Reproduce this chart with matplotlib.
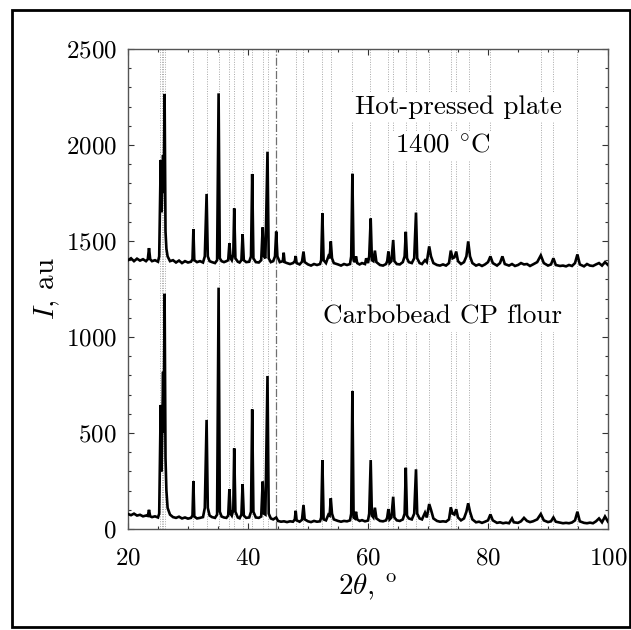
import matplotlib
matplotlib.use("Agg")
import matplotlib.pyplot as plt
from matplotlib.patches import Rectangle
from matplotlib.ticker import MultipleLocator

plt.rcParams['font.family'] = ['cmr10', 'DejaVu Serif']
plt.rcParams['mathtext.fontset'] = 'cm'
plt.rcParams['axes.unicode_minus'] = False
plt.rcParams['axes.formatter.use_mathtext'] = True

# ---- data ----
# Carbobead CP flour pattern (2theta, intensity)
tt_flour = [20.0, 20.5, 21.0, 21.5, 22.0, 22.5, 23.0, 23.3, 23.5, 23.7, 24.0, 24.5, 25.0, 25.2,
            25.45, 25.6, 25.85, 25.95, 26.1, 26.25, 26.4, 26.6, 27.0, 27.5, 28.0, 28.5, 29.0, 29.5,
            30.0, 30.5, 30.75, 30.9, 31.05, 31.5, 32.0, 32.5, 32.8, 33.1, 33.3, 33.6, 34.0, 34.5,
            34.85, 35.1, 35.3, 35.6, 36.0, 36.4, 36.7, 36.9, 37.1, 37.3, 37.55, 37.7, 37.9, 38.3,
            38.6, 38.9, 39.1, 39.3, 39.7, 40.2, 40.5, 40.7, 40.9, 41.3, 41.8, 42.2, 42.45, 42.65,
            42.9, 43.25, 43.45, 43.8, 44.2, 44.7, 45.0, 45.5, 46.0, 46.5, 47.0, 47.5, 47.8, 47.95,
            48.1, 48.6, 49.0, 49.25, 49.45, 50.0, 50.5, 51.0, 51.5, 52.0, 52.2, 52.4, 52.6, 53.0,
            53.4, 53.6, 53.8, 54.0, 54.3, 55.0, 55.5, 56.0, 56.5, 57.0, 57.2, 57.4, 57.6, 57.8,
            58.0, 58.2, 58.6, 59.0, 59.5, 60.0, 60.2, 60.45, 60.65, 60.9, 61.15, 61.4, 62.0, 62.5,
            63.0, 63.2, 63.4, 63.6, 63.9, 64.2, 64.4, 64.8, 65.3, 65.8, 66.1, 66.3, 66.5, 66.8,
            67.3, 67.7, 68.0, 68.2, 68.6, 69.0, 69.5, 69.8, 70.2, 70.5, 70.9, 71.5, 72.0, 72.5,
            73.0, 73.5, 73.8, 74.1, 74.4, 74.7, 75.0, 75.5, 76.0, 76.4, 76.7, 77.0, 77.4, 78.0,
            78.5, 79.0, 79.5, 80.0, 80.4, 80.8, 81.5, 82.0, 82.5, 83.0, 83.5, 84.0, 84.3, 85.0,
            85.5, 86.0, 86.5, 87.0, 87.5, 88.2, 88.8, 89.3, 90.0, 90.5, 90.9, 91.3, 92.0, 92.5,
            93.0, 93.5, 94.0, 94.5, 94.9, 95.3, 96.0, 96.5, 97.0, 97.5, 98.0, 98.5, 99.0, 99.5, 100.0]
I_flour = [78, 72, 80, 70, 74, 66, 70, 68, 100, 66, 62, 66, 60, 80,
           646, 300, 819, 500, 1225, 370, 200, 110, 75, 62, 58, 64, 55, 60,
           54, 58, 70, 250, 65, 55, 58, 62, 110, 568, 110, 70, 62, 58,
           75, 1257, 90, 65, 60, 58, 70, 207, 80, 70, 100, 420, 90, 60,
           56, 75, 233, 70, 58, 60, 90, 623, 90, 60, 58, 65, 247, 80,
           75, 797, 80, 55, 50, 60, 42, 38, 40, 36, 40, 38, 50, 95,
           45, 38, 48, 125, 50, 40, 36, 42, 38, 40, 60, 359, 50, 45,
           75, 70, 160, 80, 50, 42, 38, 42, 40, 45, 80, 719, 60, 55,
           90, 50, 42, 46, 40, 44, 80, 359, 70, 60, 111, 55, 42, 40,
           45, 60, 104, 50, 60, 168, 60, 45, 42, 50, 80, 319, 70, 55,
           50, 80, 311, 80, 55, 50, 85, 60, 130, 100, 55, 42, 38, 40,
           38, 50, 113, 80, 75, 103, 60, 45, 55, 90, 134, 90, 50, 35,
           38, 32, 38, 45, 76, 45, 32, 35, 30, 33, 30, 55, 35, 32,
           40, 58, 42, 36, 40, 50, 78, 45, 36, 40, 60, 38, 33, 30,
           32, 30, 34, 45, 90, 40, 32, 30, 33, 30, 40, 55, 35, 65, 38]

# Hot-pressed plate 1400 C pattern (2theta, intensity)
tt_plate = [20.0, 20.5, 21.0, 21.5, 22.0, 22.5, 23.0, 23.3, 23.5, 23.7, 24.0, 24.5, 25.0, 25.2,
            25.45, 25.6, 25.85, 25.95, 26.1, 26.25, 26.4, 26.6, 27.0, 27.5, 28.0, 28.5, 29.0, 29.5,
            30.0, 30.5, 30.75, 30.9, 31.05, 31.5, 32.0, 32.5, 32.8, 33.1, 33.3, 33.6, 34.0, 34.5,
            34.85, 35.1, 35.3, 35.6, 36.0, 36.4, 36.7, 36.9, 37.1, 37.3, 37.55, 37.7, 37.9, 38.3,
            38.6, 38.9, 39.1, 39.3, 39.7, 40.2, 40.5, 40.7, 40.9, 41.3, 41.8, 42.2, 42.45, 42.65,
            42.9, 43.25, 43.45, 43.8, 44.2, 44.5, 44.7, 44.9, 45.3, 45.8, 45.95, 46.1, 46.5, 47.0,
            47.5, 47.8, 47.95, 48.1, 48.6, 49.0, 49.25, 49.45, 50.0, 50.5, 51.0, 51.5, 52.0, 52.2,
            52.4, 52.6, 53.0, 53.4, 53.6, 53.8, 54.0, 54.3, 55.0, 55.5, 56.0, 56.5, 57.0, 57.2,
            57.4, 57.6, 57.8, 58.0, 58.2, 58.6, 59.0, 59.5, 59.7, 60.0, 60.2, 60.45, 60.65, 60.9,
            61.15, 61.4, 62.0, 62.5, 63.0, 63.2, 63.4, 63.6, 63.9, 64.2, 64.4, 64.8, 65.3, 65.8,
            66.1, 66.3, 66.5, 66.8, 67.3, 67.7, 68.0, 68.2, 68.6, 69.0, 69.5, 69.8, 70.2, 70.5,
            70.9, 71.5, 72.0, 72.5, 73.0, 73.5, 73.8, 74.1, 74.4, 74.7, 75.0, 75.5, 76.0, 76.4,
            76.7, 77.0, 77.4, 78.0, 78.5, 79.0, 79.5, 80.0, 80.4, 80.8, 81.5, 82.0, 82.4, 82.8,
            83.5, 84.0, 84.5, 85.0, 85.5, 86.0, 86.5, 87.0, 87.5, 88.2, 88.8, 89.3, 90.0, 90.5,
            90.9, 91.3, 92.0, 92.5, 93.0, 93.5, 94.0, 94.5, 94.9, 95.3, 96.0, 96.5, 97.0, 97.5,
            98.0, 98.5, 99.0, 99.5, 100.0]
I_plate = [1400, 1410, 1395, 1408, 1398, 1405, 1395, 1405, 1463, 1405, 1395, 1400, 1392, 1420,
           1922, 1650, 1948, 1750, 2266, 1550, 1460, 1420, 1395, 1400, 1388, 1398, 1385, 1395,
           1388, 1392, 1405, 1561, 1400, 1390, 1395, 1388, 1420, 1745, 1420, 1395, 1390, 1385,
           1400, 2269, 1410, 1395, 1390, 1395, 1400, 1488, 1410, 1400, 1430, 1670, 1410, 1392,
           1388, 1400, 1536, 1400, 1390, 1392, 1420, 1849, 1410, 1390, 1388, 1400, 1571, 1420,
           1410, 1965, 1410, 1390, 1395, 1420, 1549, 1420, 1390, 1395, 1439, 1390, 1385, 1380,
           1385, 1395, 1422, 1385, 1378, 1392, 1445, 1390, 1378, 1372, 1380, 1375, 1380, 1400,
           1644, 1400, 1385, 1420, 1410, 1498, 1410, 1385, 1378, 1372, 1380, 1375, 1380, 1420,
           1850, 1400, 1390, 1420, 1385, 1378, 1385, 1380, 1410, 1385, 1420, 1617, 1400, 1395,
           1450, 1390, 1375, 1372, 1380, 1395, 1445, 1385, 1395, 1505, 1395, 1380, 1378, 1390,
           1420, 1548, 1410, 1390, 1385, 1410, 1648, 1410, 1385, 1380, 1400, 1390, 1472, 1420,
           1385, 1375, 1372, 1378, 1372, 1385, 1450, 1410, 1415, 1445, 1395, 1380, 1390, 1420,
           1498, 1420, 1385, 1372, 1378, 1370, 1378, 1390, 1420, 1385, 1372, 1385, 1420, 1380,
           1372, 1380, 1370, 1375, 1385, 1378, 1380, 1370, 1378, 1390, 1425, 1385, 1372, 1378,
           1410, 1375, 1370, 1372, 1368, 1375, 1370, 1385, 1430, 1378, 1368, 1380, 1372, 1370,
           1378, 1385, 1372, 1390, 1375]

# reference peak positions (dotted markers) and the dash-dot marker
ref_peaks = [25.3, 25.6, 25.9, 26.15, 30.9, 33.1, 35.1, 36.9, 37.7, 39.1, 40.7, 42.45, 43.25,
             47.95, 49.2, 52.4, 53.8, 57.4, 60.4, 63.4, 64.2, 66.3, 68.0, 70.2, 73.8, 74.7,
             76.9, 80.4, 88.8, 90.9, 94.9]
special_peak = [44.7]

label_plate = "Hot-pressed plate"
label_temp = r"1400 $^{\circ}$C"
label_flour = "Carbobead CP flour"

# ---- figure ----
fig = plt.figure(figsize=(6.31, 6.30), dpi=100)
ax = fig.add_axes([128/631, 1-529/630, 480/631, 480/630])

for p in ref_peaks:
    ax.axvline(p, color='#a8a8a8', lw=0.7, ls=(0, (1, 1.5)), zorder=1)
for p in special_peak:
    ax.axvline(p, color='#707070', lw=0.9, ls='-.', zorder=1)

ax.plot(tt_flour, I_flour, color='black', lw=1.9, zorder=4, solid_joinstyle='miter')
ax.plot(tt_plate, I_plate, color='black', lw=1.9, zorder=4, solid_joinstyle='miter')

bbox = dict(facecolor='white', edgecolor='none', pad=2)
ax.text(75.0, 2198, label_plate, fontsize=19.5, ha='center', va='center', bbox=bbox, zorder=3)
ax.text(72.5, 1995, label_temp, fontsize=19.5, ha='center', va='center', bbox=bbox, zorder=3)
ax.text(72.4, 1104, label_flour, fontsize=19.5, ha='center', va='center', bbox=bbox, zorder=3)

ax.set_xlim(20, 100)
ax.set_ylim(0, 2500)
ax.xaxis.set_major_locator(MultipleLocator(20))
ax.xaxis.set_minor_locator(MultipleLocator(5))
ax.yaxis.set_major_locator(MultipleLocator(500))
ax.yaxis.set_minor_locator(MultipleLocator(100))
ax.tick_params(which='both', direction='in', top=True, right=True, color='#333333',
               labelsize=18, width=0.8)
ax.tick_params(which='major', length=4.5)
ax.tick_params(which='minor', length=2.5)
ax.tick_params(axis='x', which='major', pad=13)
ax.tick_params(axis='y', which='major', pad=8)
for s in ax.spines.values():
    s.set_color('#555555')
    s.set_linewidth(1.0)

ax.set_xlabel(r"$2\theta$, $^{\rm o}$", fontsize=21, labelpad=2)
ax.set_ylabel(r"$I$, au", fontsize=21, labelpad=3)

# outer frame
fig.patches.append(Rectangle((12/631, 1-627/630), (630-12)/631, (627-10)/630,
                             transform=fig.transFigure, fill=False, edgecolor='black',
                             linewidth=2.0, zorder=10))

fig.savefig("out.png", dpi=100)
